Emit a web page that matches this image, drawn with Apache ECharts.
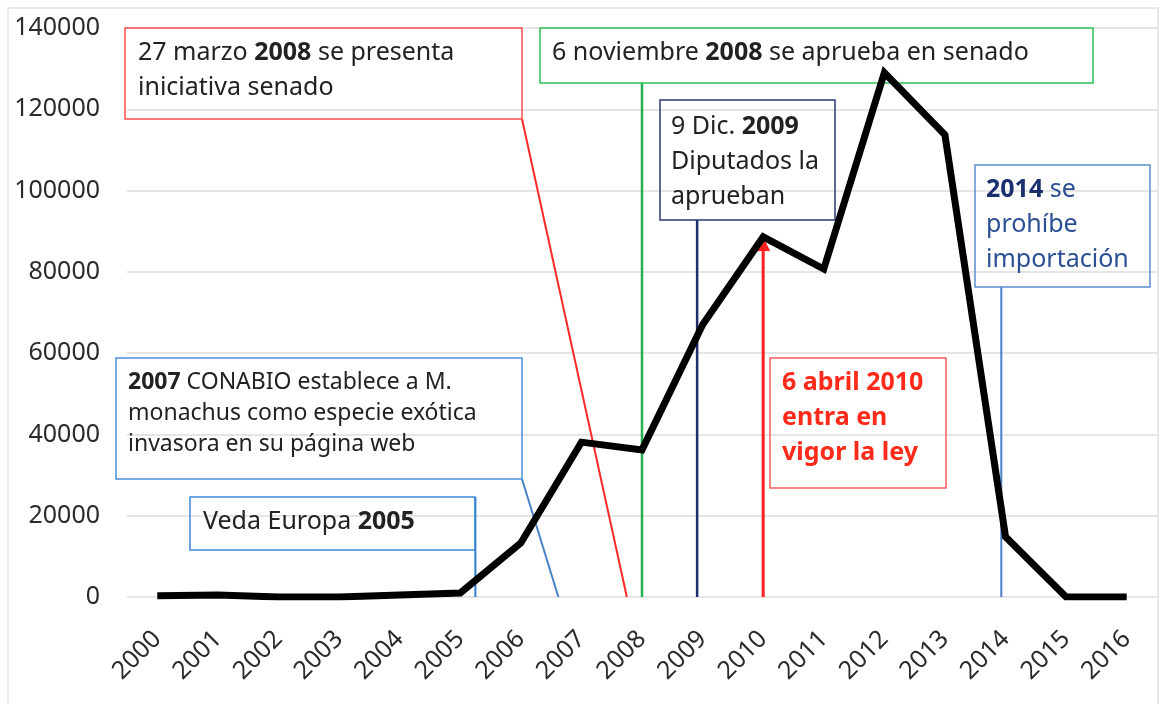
<!DOCTYPE html>
<html>
<head>
<meta charset="utf-8">
<script src="https://cdn.jsdelivr.net/npm/echarts@6/dist/echarts.min.js"></script>
<style>
  html, body { margin: 0; padding: 0; background: #fff; }
  #chart { width: 1165px; height: 704px; }
</style>
</head>
<body>
<div id="chart"></div>
<script>
// datos
var years = ['2000', '2001', '2002', '2003', '2004', '2005', '2006', '2007', '2008',
             '2009', '2010', '2011', '2012', '2013', '2014', '2015', '2016'];
var counts = [300, 500, 0, 0, 500, 1000, 13300, 38100, 36200,
              67000, 88600, 80700, 129000, 113700, 14800, 0, 0];
var yTicks = [0, 20000, 40000, 60000, 80000, 100000, 120000, 140000];

// posicion de cada evento sobre el eje de años (indice fraccional)
var eventPos = {
    veda: 5.25,
    conabio: 6.62,
    marzo: 7.75,
    noviembre: 8.0,
    diciembre: 8.91,
    abril: 10.0,
    prohibe: 13.93
};

var FONT = '"Noto Sans", sans-serif';

var chart = echarts.init(document.getElementById('chart'));

var option = {
    animation: false,
    backgroundColor: '#fff',
    grid: { left: 127, right: 8, top: 28, bottom: 107 },
    xAxis: [{
        type: 'category',
        data: years,
        boundaryGap: true,
        axisLine: { show: false },
        axisTick: { show: false },
        axisLabel: {
            rotate: 45,
            margin: 38,
            fontFamily: FONT,
            fontSize: 25,
            color: '#2b2b2b'
        }
    }, {
        // eje oculto para ubicar las anotaciones
        type: 'value',
        min: -0.5,
        max: years.length - 0.5,
        show: false
    }],
    yAxis: {
        type: 'value',
        min: yTicks[0],
        max: yTicks[yTicks.length - 1],
        interval: 20000,
        axisLine: { show: false },
        axisTick: { show: false },
        splitLine: { lineStyle: { color: '#dcdcdc', width: 1.5 } },
        axisLabel: {
            margin: 27,
            fontFamily: FONT,
            fontSize: 25,
            color: '#2b2b2b',
            formatter: function (v) { return String(v); }
        }
    },
    series: [{
        type: 'line',
        data: counts,
        showSymbol: false,
        lineStyle: { color: '#000', width: 7, join: 'miter' },
        z: 20
    }]
};
chart.setOption(option);

function px(x, y) {
    return chart.convertToPixel({ xAxisIndex: 1, yAxisIndex: 0 }, [x, y]);
}

var boxes = [
    { x: 125, y: 28, w: 397, h: 91, border: '#ff4d4d', fs: 25, lh: 35, tx: 13, ty: 7,
      text: '27 marzo {b|2008} se presenta\niniciativa senado', color: '#222' },
    { x: 540, y: 28, w: 553, h: 55, border: '#2fbf55', fs: 25, lh: 35, tx: 12, ty: 7,
      text: '6 noviembre {b|2008} se aprueba en senado', color: '#222' },
    { x: 660, y: 100, w: 175, h: 120, border: '#2b3a78', fs: 25, lh: 35, tx: 11, ty: 9,
      text: '9 Dic. {b|2009}\nDiputados la\naprueban', color: '#222' },
    { x: 770, y: 358, w: 176, h: 130, border: '#ff5a5a', fs: 25, lh: 35, tx: 12, ty: 7,
      text: '{b|6 abril 2010}\n{b|entra en}\n{b|vigor la ley}', color: '#ff2a1a' },
    { x: 975, y: 165, w: 175, h: 122, border: '#5b8fd0', fs: 25, lh: 35, tx: 11, ty: 7,
      text: '{n|2014} se\nprohíbe\nimportación', color: '#2a4f95' },
    { x: 116, y: 358, w: 406, h: 121, border: '#4a90d9', fs: 23, lh: 31, tx: 12, ty: 9,
      text: '{b|2007} CONABIO establece a M.\nmonachus como especie exótica\ninvasora en su página web', color: '#222' },
    { x: 190, y: 497, w: 285, h: 53, border: '#3d8ad6', fs: 25, lh: 35, tx: 13, ty: 7,
      text: 'Veda Europa {b|2005}', color: '#222' }
];

function conn(p1, p2, color, width) {
    return {
        type: 'line',
        shape: { x1: p1[0], y1: p1[1], x2: p2[0], y2: p2[1] },
        style: { stroke: color, lineWidth: width },
        z: 5
    };
}

function draw() {
    var g = [];
    // marco del grafico
    g.push({ type: 'rect', shape: { x: 8, y: 8, width: 1150, height: 700 },
        style: { fill: 'none', stroke: '#e2e2e2', lineWidth: 1.5 }, z: 0 });

    var b0 = px(eventPos.marzo, 0);
    g.push(conn([522, 119], b0, '#ff2a2a', 2));
    var nv = px(eventPos.noviembre, 0);
    g.push(conn([nv[0], 83], nv, '#22b14c', 2.5));
    var dc = px(eventPos.diciembre, 0);
    g.push(conn([dc[0], 220], dc, '#1f2d6e', 2.5));
    var ab0 = px(eventPos.abril, 0);
    var ab1 = px(eventPos.abril, counts[10]);
    g.push(conn(ab0, [ab1[0], ab1[1] + 10], '#ff2020', 3));
    g.push({ type: 'polygon', shape: { points: [[ab1[0], ab1[1]], [ab1[0] - 7, ab1[1] + 14], [ab1[0] + 7, ab1[1] + 14]] },
        style: { fill: '#ff2020' }, z: 5 });
    var pr = px(eventPos.prohibe, 0);
    g.push(conn([pr[0], 287], pr, '#4a82c8', 2));
    var cn = px(eventPos.conabio, 0);
    g.push(conn([522, 479], cn, '#4a82c8', 2));
    var vd = px(eventPos.veda, 0);
    g.push(conn([vd[0], 497], vd, '#2f7fd0', 2));

    boxes.forEach(function (b) {
        g.push({
            type: 'rect',
            shape: { x: b.x, y: b.y, width: b.w, height: b.h },
            style: { fill: 'none', stroke: b.border, lineWidth: 1.5 },
            z: 6
        });
        g.push({
            type: 'text',
            x: b.x + b.tx,
            y: b.y + b.ty,
            style: {
                text: b.text,
                fontFamily: FONT,
                fontSize: b.fs,
                lineHeight: b.lh,
                fill: b.color,
                rich: {
                    b: { fontWeight: 'bold', fontFamily: FONT, fontSize: b.fs, lineHeight: b.lh, fill: b.color },
                    n: { fontWeight: 'bold', fontFamily: FONT, fontSize: b.fs, lineHeight: b.lh, fill: '#1a2f6e' }
                }
            },
            z: 7
        });
    });
    chart.setOption({ graphic: g });
}
draw();
</script>
</body>
</html>
